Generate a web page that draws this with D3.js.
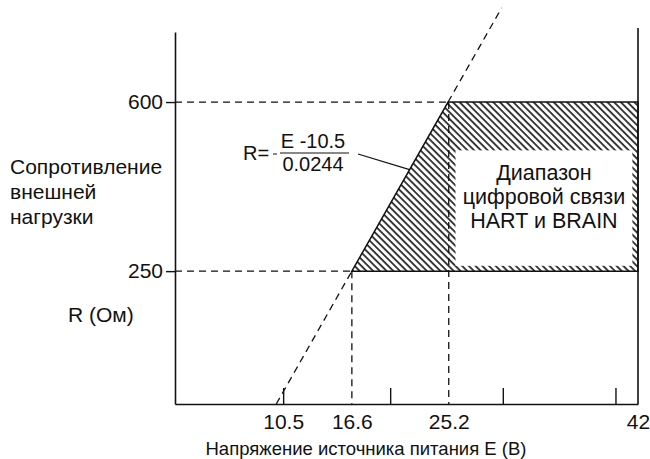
<!DOCTYPE html>
<html>
<head>
<meta charset="utf-8">
<script src="https://cdn.jsdelivr.net/npm/d3@7"></script>
<style>
  body { margin: 0; background: #fff; }
  text { font-family: "Liberation Sans", Arial, sans-serif; fill: #111; }
</style>
</head>
<body>
<div id="body"></div>
<script>
// values
const eLabels = [10.5, 16.6, 25.2, 42];   // labelled voltages
const eTicks = [10.5, 20, 30, 40];        // small tick marks
const rTicks = [250, 600];                // resistance ticks
const rBand = [250, 600];                 // HART / BRAIN resistance range
const eMarks = [16.6, 25.2];              // dashed drop lines
const eZero = 10.5, k = 0.0244;           // R = (E - 10.5) / 0.0244
const boxE = [25.8, 41.5], boxR = [261, 500];
const boxLines = ["Диапазон", "цифровой связи", "HART и BRAIN"];
const yLabelLines = ["Сопротивление", "внешней", "нагрузки"];

const width = 650, height = 459;
const plotLeft = 175, plotRight = 638, plotTop = 32, plotBottom = 404;

const eOf = (r) => eZero + k * r;

const svg = d3.select("#body")
              .append("svg")
              .attr("width", width)
              .attr("height", height);

const x = d3.scaleLinear().domain([0.9, 42]).range([plotLeft, plotRight]);
const y = d3.scaleLinear().domain([-25, 745]).range([plotBottom, plotTop]);

// hatch pattern
svg.append("defs").append("pattern")
   .attr("id", "hatch")
   .attr("patternUnits", "userSpaceOnUse")
   .attr("width", 4.75)
   .attr("height", 10)
   .attr("patternTransform", "rotate(-45)")
   .append("line")
   .attr("x1", 1).attr("y1", 0).attr("x2", 1).attr("y2", 10)
   .attr("stroke", "#111")
   .attr("stroke-width", 1.6);

const band = [[eOf(rBand[0]), rBand[0]], [eOf(rBand[1]), rBand[1]], [42, rBand[1]], [42, rBand[0]]];
const line = d3.line().x((d) => x(d[0])).y((d) => y(d[1]));

svg.append("path")
   .attr("d", line(band) + "Z")
   .attr("fill", "url(#hatch)")
   .attr("stroke", "#111")
   .attr("stroke-width", 1.5);

// white label box
svg.append("rect")
   .attr("x", x(boxE[0]))
   .attr("y", y(boxR[1]))
   .attr("width", x(boxE[1]) - x(boxE[0]))
   .attr("height", y(boxR[0]) - y(boxR[1]))
   .attr("fill", "#fff");

const dash = "7,5";

// dashed extensions of R line
const rLow = y.domain()[0], rHigh = 795;
svg.append("path")
   .attr("d", line([[eOf(rLow), rLow], [eOf(rBand[0]), rBand[0]]]))
   .attr("stroke", "#111").attr("stroke-width", 1.3)
   .attr("stroke-dasharray", dash).attr("fill", "none");
svg.append("path")
   .attr("d", line([[eOf(rBand[1]), rBand[1]], [eOf(rHigh), rHigh]]))
   .attr("stroke", "#111").attr("stroke-width", 1.3)
   .attr("stroke-dasharray", dash).attr("fill", "none");

// dashed horizontal guides
svg.selectAll(".hguide")
   .data(rBand)
   .enter()
   .append("path")
   .attr("class", "hguide")
   .attr("d", (d) => line([[x.domain()[0], d], [eOf(d), d]]))
   .attr("stroke", "#111").attr("stroke-width", 1.3)
   .attr("stroke-dasharray", dash).attr("fill", "none");

// dashed vertical guides
svg.selectAll(".vguide")
   .data(eMarks)
   .enter()
   .append("path")
   .attr("class", "vguide")
   .attr("d", (d, i) => line([[d, rBand[i]], [d, y.domain()[0]]]))
   .attr("stroke", "#111").attr("stroke-width", 1.3)
   .attr("stroke-dasharray", dash).attr("fill", "none");

// box text
const boxCx = (x(boxE[0]) + x(boxE[1])) / 2;
svg.selectAll(".boxtext")
   .data(boxLines)
   .enter()
   .append("text")
   .attr("class", "boxtext")
   .attr("x", boxCx)
   .attr("y", (d, i) => y(boxR[1]) + 30 + i * 24)
   .attr("text-anchor", "middle")
   .style("font-size", "21.5px")
   .text((d) => d);

// axes
const xLabelAxis = d3.axisBottom(x)
                     .tickValues(eLabels)
                     .tickSize(0)
                     .tickPadding(10)
                     .tickFormat((d) => String(d));
svg.append("g")
   .attr("transform", `translate(0, ${plotBottom})`)
   .call(xLabelAxis)
   .call((g) => g.select(".domain").attr("stroke", "#111").attr("stroke-width", 1.6))
   .call((g) => g.selectAll("text").style("font-size", "21px").attr("fill", "#111"));

const xTickAxis = d3.axisBottom(x)
                    .tickValues(eTicks)
                    .tickSizeInner(-16)
                    .tickSizeOuter(0)
                    .tickFormat("");
svg.append("g")
   .attr("transform", `translate(0, ${plotBottom})`)
   .call(xTickAxis)
   .call((g) => g.select(".domain").remove())
   .call((g) => g.selectAll("line").attr("stroke", "#111").attr("stroke-width", 1.4));

const yAxis = d3.axisLeft(y)
                .tickValues(rTicks)
                .tickSizeInner(9)
                .tickSizeOuter(0)
                .tickPadding(3);
svg.append("g")
   .attr("transform", `translate(${plotLeft}, 0)`)
   .call(yAxis)
   .call((g) => g.select(".domain").attr("stroke", "#111").attr("stroke-width", 1.6))
   .call((g) => g.selectAll("line").attr("stroke", "#111").attr("stroke-width", 1.4))
   .call((g) => g.selectAll("text").style("font-size", "21px").attr("fill", "#111"));

// right border
svg.append("line")
   .attr("x1", x(42)).attr("x2", x(42))
   .attr("y1", plotTop - 4).attr("y2", plotBottom)
   .attr("stroke", "#111").attr("stroke-width", 1.6);

// formula
const f = svg.append("g");
f.append("text").attr("x", 243).attr("y", 160).style("font-size", "20px").text("R=");
f.append("line").attr("x1", 273).attr("x2", 277).attr("y1", 154).attr("y2", 154)
 .attr("stroke", "#111").attr("stroke-width", 1);
f.append("text").attr("x", 313).attr("y", 148).attr("text-anchor", "middle")
 .style("font-size", "20px").text("E -10.5");
f.append("line").attr("x1", 280).attr("x2", 349).attr("y1", 153).attr("y2", 153)
 .attr("stroke", "#111").attr("stroke-width", 1);
f.append("text").attr("x", 313).attr("y", 171).attr("text-anchor", "middle")
 .style("font-size", "20px").text("0.0244");

// leader to the R line
const leadR = 460;
svg.append("line")
   .attr("x1", 358).attr("y1", 154)
   .attr("x2", x(eOf(leadR))).attr("y2", y(leadR))
   .attr("stroke", "#111").attr("stroke-width", 1.2);

// axis titles
svg.selectAll(".ylab")
   .data(yLabelLines)
   .enter()
   .append("text")
   .attr("class", "ylab")
   .attr("x", 10)
   .attr("y", (d, i) => 174 + i * 25)
   .style("font-size", "21px")
   .text((d) => d);

svg.append("text")
   .attr("x", 68).attr("y", 322)
   .style("font-size", "21px")
   .text("R (Ом)");

svg.append("text")
   .attr("x", 366).attr("y", 455)
   .attr("text-anchor", "middle")
   .style("font-size", "18.5px")
   .text("Напряжение источника питания Е (В)");
</script>
</body>
</html>
